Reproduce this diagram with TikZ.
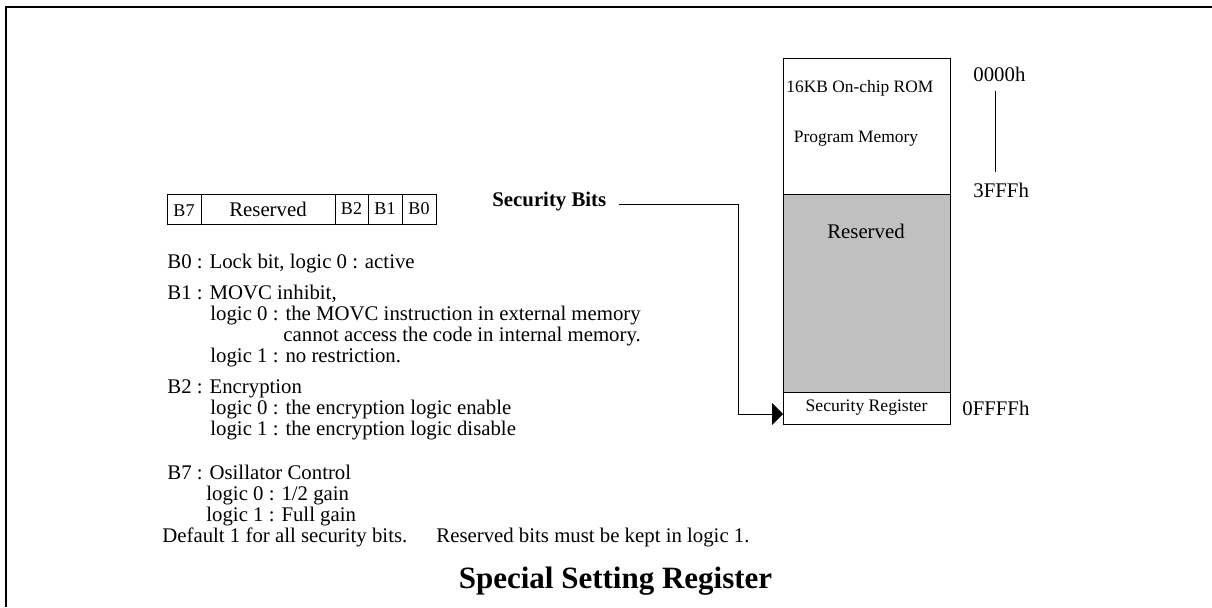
\documentclass[tikz,border=0pt]{standalone}
\usepackage{fontspec}
\setmainfont{Liberation Serif}
\usetikzlibrary{positioning,arrows.meta}
\definecolor{memgray}{RGB}{192,192,192}
\tikzset{
  txt/.style={anchor=base west,inner sep=0pt,font=\fontsize{10.4}{12}\selectfont},
  small/.style={inner sep=0pt,font=\fontsize{8.7}{10}\selectfont},
  cell/.style={draw,line width=0.5pt,minimum height=15pt,inner sep=0pt,outer sep=0pt,
    font=\fontsize{9}{10}\selectfont},
  mem/.style={draw,line width=0.5pt,minimum width=83.5pt,inner sep=0pt,outer sep=0pt,
    anchor=north west},
  wire/.style={line width=0.5pt}
}
\begin{document}
\begin{tikzpicture}[x=0.5pt,y=-0.5pt]
   \useasboundingbox (0,0) rectangle (1212,607);
   \draw[line width=1.1pt] (1212,7) -- (6,7) -- (6,607);

   % register bits
   \node[cell,minimum width=17pt,anchor=north west,text height=7.6pt] (b7) at (167,194) {B7};
   \node[cell,minimum width=67pt,right=0pt of b7,font=\fontsize{10.4}{12}\selectfont] (rsvbits) {Reserved};
   \node[cell,minimum width=16.5pt,right=0pt of rsvbits] (b2) {B2};
   \node[cell,minimum width=17pt,right=0pt of b2] (b1) {B1};
   \node[cell,minimum width=17pt,right=0pt of b1] (b0) {B0};

   \node[txt] (b0txt) at (167,268) {B0 : Lock bit, logic 0 : active};
   \node[txt] (b1txt) at (167,299) {B1 : MOVC inhibit,};
   \node[txt] (b1l0) at (210,320) {logic 0 : the MOVC instruction in external memory};
   \node[txt] (b1l0b) at (283,341) {cannot access the code in internal memory.};
   \node[txt] (b1l1) at (210,362) {logic 1 : no restriction.};
   \node[txt] (b2txt) at (167,393) {B2 : Encryption};
   \node[txt] (b2l0) at (210,414) {logic 0 : the encryption logic enable};
   \node[txt] (b2l1) at (210,435) {logic 1 : the encryption logic disable};
   \node[txt] (b7txt) at (167,479) {B7 : Osillator Control};
   \node[txt] (b7l0) at (206,500) {logic 0 : 1/2 gain};
   \node[txt] (b7l1) at (206,521) {logic 1 : Full gain};
   \node[txt] (deftxt) at (162,542) {Default 1 for all security bits.};
   \node[txt] (rsvtxt) at (436,542) {Reserved bits must be kept in logic 1.};

   % memory map
   \node[mem,minimum height=68pt] (rom) at (783,58) {};
   \node[mem,minimum height=99pt,fill=memgray,below=0pt of rom] (resv) {};
   \node[mem,minimum height=16pt,below=0pt of resv,font=\fontsize{8.8}{10}\selectfont] (secreg) {Security Register};
   \node[small,anchor=base west] (romtxt) at (786,92) {16KB On-chip ROM};
   \node[small,anchor=base] (pmtxt) at (856,142) {Program Memory};
   \node[txt,anchor=base] (resvtxt) at (866,238) {Reserved};

   \node[txt] (a0) at (973,81) {0000h};
   \node[txt] (a1) at (973,197) {3FFFh};
   \node[txt] (a2) at (962,415) {0FFFFh};
   \draw[wire,shorten <=4.5pt,shorten >=5pt] ([xshift=-2pt]a0.south) -- ([xshift=-2pt]a0.south |- a1.north);

   \node[txt,font=\bfseries\fontsize{10.4}{12}\selectfont] (secbits) at (492,206) {Security Bits};
   \coordinate (turn) at (738,0);
   \coordinate (arrowin) at ([yshift=-3pt]secreg.west);
   \draw[wire,-{Triangle[length=5.5pt,width=11pt]}] ([shift={(6pt,1pt)}]secbits.base east)
   -| (turn |- arrowin) -- (arrowin);

   \node[anchor=base,inner sep=0pt,font=\bfseries\fontsize{15.5}{18}\selectfont] (title) at (615.5,588) {Special Setting Register};
\end{tikzpicture}
\end{document}
